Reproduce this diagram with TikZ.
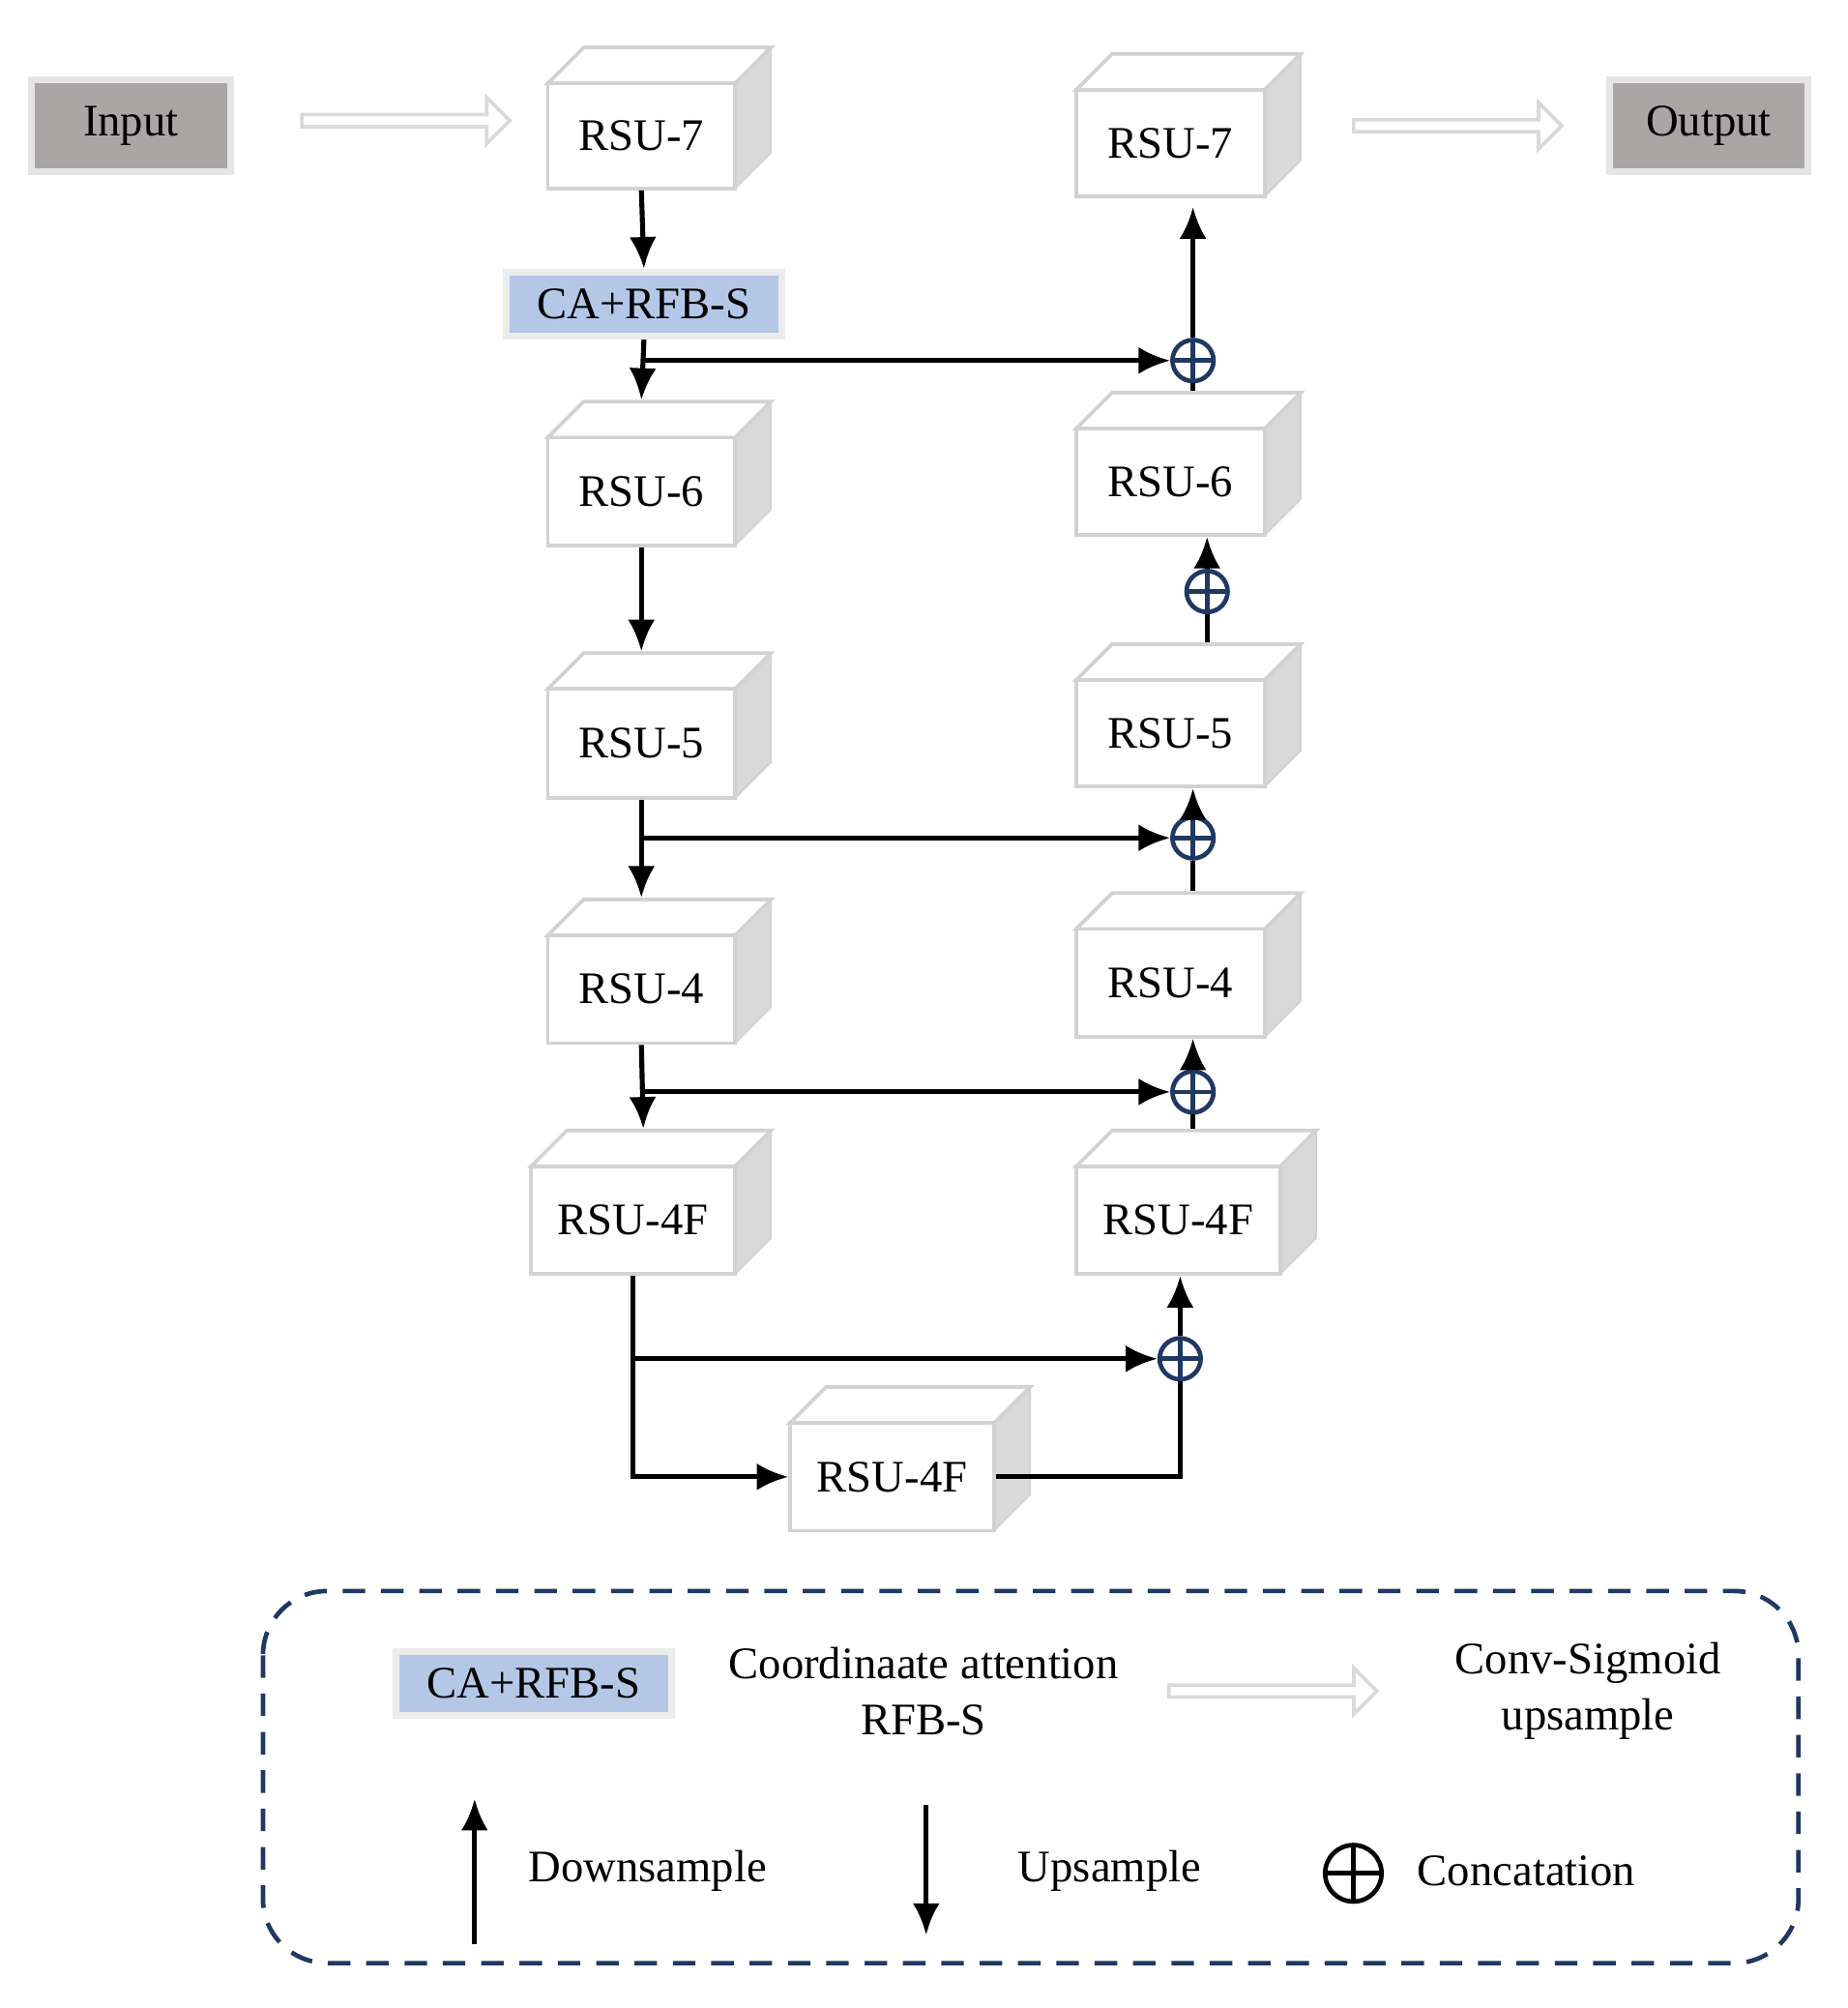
\documentclass[tikz,border=0pt]{standalone}
\usepackage{fontspec}
\setmainfont{Liberation Serif}
\usetikzlibrary{arrows.meta,shapes.arrows}
\definecolor{boxgray}{HTML}{ABA6A6}
\definecolor{cablue}{HTML}{B4C7E7}
\definecolor{navy}{HTML}{1F3864}
\tikzset{
  arr/.style={line width=1.1pt,-{Latex[length=7pt,width=6pt]}},
  wire/.style={line width=1.1pt},
  face/.style={draw=gray!35,line width=0.8pt},
  io/.style={fill=boxgray,draw=gray!20,line width=1.5pt,minimum width=1.55cm,minimum height=0.72cm},
  ca/.style={fill=cablue,draw=gray!15,line width=1.5pt,minimum width=2.15cm,minimum height=0.5cm},
  hollow/.style={single arrow,draw=gray!30,line width=0.8pt,minimum height=1.62cm,minimum width=0.36cm,single arrow head extend=0.04cm,inner sep=0pt},
  cat/.style={circle,draw=navy,line width=1pt,minimum size=0.32cm,inner sep=0pt,
    path picture={\draw[navy,line width=1pt] (path picture bounding box.north)--(path picture bounding box.south)
      (path picture bounding box.west)--(path picture bounding box.east);}},
}
% name, x1, y1, x2, y2, text
\newcommand\rsu[6]{%
  \filldraw[fill=gray!30,draw=gray!35] (#4,#3)--(#4+28,#3-28)--(#4+28,#5-28)--(#4,#5)--cycle;
  \filldraw[face,fill=white] (#2,#3)--(#2+28,#3-28)--(#4+28,#3-28)--(#4,#3)--cycle;
  \node[face,fill=white,minimum width={(#4-#2)*0.01cm},minimum height={(#5-#3)*0.01cm},inner sep=0pt]
    (#1) at ({(#2+#4)/2},{(#3+#5)/2}) {#6};}
\begin{document}
\begin{tikzpicture}[x=0.01cm,y=-0.01cm,font=\fontsize{10}{12.5}\selectfont]
  \useasboundingbox (0,0) rectangle (1440,1565);

  \node[io] (in) at (102,98) {Input};
  \node[io] (out) at (1332,98) {Output};

  \rsu{l7}{427}{65}{573}{147}{RSU-7}
  \rsu{r7}{839}{70}{986}{153}{RSU-7}
  \rsu{l6}{427}{341}{573}{425}{RSU-6}
  \rsu{r6}{839}{334}{986}{417}{RSU-6}
  \rsu{l5}{427}{537}{573}{622}{RSU-5}
  \rsu{r5}{839}{530}{986}{613}{RSU-5}
  \rsu{l4}{427}{729}{573}{813}{RSU-4}
  \rsu{r4}{839}{724}{986}{808}{RSU-4}
  \rsu{l4f}{414}{909}{573}{993}{RSU-4F}
  \rsu{r4f}{839}{909}{998}{993}{RSU-4F}
  \rsu{b4f}{616}{1109}{775}{1193}{RSU-4F}

  \node[ca] (ca) at (502,237) {CA+RFB-S};

  \node[hollow] (h1) at (314,94) {};
  \node[hollow] (h2) at (1134,98) {};

  \node[cat] (c1) at (930,281) {};
  \node[cat] (c2) at (941,461) {};
  \node[cat] (c3) at (930,653) {};
  \node[cat] (c4) at (930,851) {};
  \node[cat] (c5) at (920,1059) {};

  % encoder
  \draw[arr] (l7.south) -- (ca.north);
  \draw[arr] (ca.south) -- ([yshift=0.28cm]l6.north);
  \draw[arr] (l6.south) -- ([yshift=0.28cm]l5.north);
  \draw[arr] (l5.south) -- ([yshift=0.28cm]l4.north);
  \draw[arr] (l4.south) -- ([yshift=0.28cm,xshift=0.08cm]l4f.north);
  \draw[arr] (l4f.south) -- (l4f.south |- b4f.west) -- (b4f.west);

  % skips
  \draw[arr] (ca.south |- c1) -- (c1.west);
  \draw[arr] (l5.south |- c3) -- (c3.west);
  \draw[arr] (l4.south |- c4) -- (c4.west);
  \draw[arr] (l4f.south |- c5) -- (c5.west);

  % decoder
  \draw[wire] (b4f.east) -- (c5 |- b4f.east) -- (c5.south);
  \draw[arr] (c5.north) -- (c5 |- r4f.south);
  \draw[wire] ([yshift=0.28cm]c4 |- r4f.north) -- (c4.south);
  \draw[arr] (c4.north) -- (c4 |- r4.south);
  \draw[wire] ([yshift=0.28cm]c3 |- r4.north) -- (c3.south);
  \draw[arr] (c3.north) -- (c3 |- r5.south);
  \draw[wire] ([yshift=0.28cm]c2 |- r5.north) -- (c2.south);
  \draw[arr] (c2.north) -- (c2 |- r6.south);
  \draw[wire] ([yshift=0.28cm]c1 |- r6.north) -- (c1.south);
  \draw[arr] (c1.north) -- ([yshift=-0.07cm]c1 |- r7.south);

  % legend
  \draw[navy,line width=1pt,dash pattern=on 5pt off 3.5pt,rounded corners=0.5cm] (205,1240) rectangle (1402,1530);
  \node[ca] (lca) at (416,1312) {CA+RFB-S};
  \node[align=center] (lcat) at (720,1318) {Coordinaate attention\\RFB-S};
  \node[hollow] (lh) at (990,1318) {};
  \node[align=center] (lconv) at (1238,1318) {Conv-Sigmoid\\upsample};
  \coordinate (dn0) at (370,1515);
  \coordinate (dn1) at (370,1402);
  \draw[arr] (dn0) -- (dn1);
  \node (ldn) at (505,1458) {Downsample};
  \coordinate (up0) at (722,1407);
  \coordinate (up1) at (722,1508);
  \draw[arr] (up0) -- (up1);
  \node (lup) at (865,1458) {Upsample};
  \node[cat,draw=black,minimum size=0.44cm,path picture={\draw[line width=1pt] (path picture bounding box.north)--(path picture bounding box.south)
      (path picture bounding box.west)--(path picture bounding box.east);}] (lc) at (1055,1460) {};
  \node (lcon) at (1190,1458) {Concatation};
\end{tikzpicture}
\end{document}
